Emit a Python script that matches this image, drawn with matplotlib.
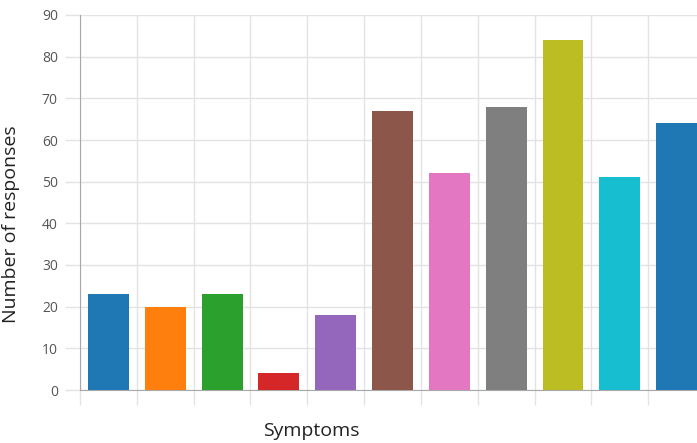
import matplotlib
matplotlib.use("Agg")
import matplotlib.pyplot as plt
import numpy as np

# bar heights (symptom names are not shown)
responses = [23, 20, 23, 4, 18, 67, 52, 68, 84, 51, 64]
colors = ["#1f77b4", "#ff7f0e", "#2ca02c", "#d62728", "#9467bd", "#8c564b",
          "#e377c2", "#7f7f7f", "#bcbd22", "#17becf", "#1f77b4"]
y_ticks = [0, 10, 20, 30, 40, 50, 60, 70, 80, 90]

plt.rcParams['font.family'] = ['Open Sans', 'DejaVu Sans']

fig = plt.figure(figsize=(6.97, 4.43), dpi=100)
W, H = 697, 443
# axes runs a bit past the right edge, like the cropped original
ax = fig.add_axes([80 / W, 53 / H, 625 / W, 375 / H])

x = np.arange(len(responses))
ax.bar(x, responses, width=0.72, color=colors, zorder=3)

ax.set_xlim(-0.5, len(responses) - 0.5)
ax.set_ylim(0, 90)
ax.set_yticks(y_ticks)
ax.set_xticks(np.arange(-0.5, len(responses), 1.0))
ax.set_xticklabels([])

grid_c = "#e3e3e3"
ax.grid(True, color=grid_c, linewidth=1, zorder=0)
for s in ["top", "right"]:
    ax.spines[s].set_visible(False)
ax.spines["left"].set_color("#a8a8a8")
ax.spines["bottom"].set_color("#a8a8a8")
ax.tick_params(axis="x", length=11, color=grid_c, width=1)
ax.tick_params(axis="y", length=11, color=grid_c, width=1,
               labelsize=10, labelcolor="#555555", pad=5)

ax.set_ylabel("Number of responses", fontsize=14, color="#222222")
ax.yaxis.set_label_coords(-0.096, 0.443)
ax.set_xlabel("Symptoms", fontsize=14, color="#222222")
ax.xaxis.set_label_coords((311 - 80) / 625, -0.085)

fig.savefig("out.png", dpi=100)
